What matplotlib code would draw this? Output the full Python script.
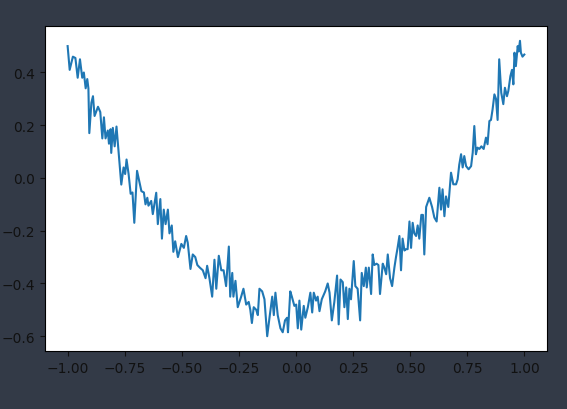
import matplotlib
matplotlib.use("Agg")
import matplotlib.pyplot as plt

# values
x = [-1.0, -0.991, -0.977, -0.966, -0.956, -0.946, -0.936, -0.929, -0.921, -0.914,
     -0.909, -0.905, -0.896, -0.889, -0.882, -0.867, -0.857, -0.848, -0.841, -0.834,
     -0.824, -0.819, -0.812, -0.809, -0.802, -0.794, -0.786, -0.765, -0.755, -0.748,
     -0.742, -0.733, -0.724, -0.716, -0.708, -0.696, -0.677, -0.666, -0.659, -0.651,
     -0.646, -0.634, -0.627, -0.612, -0.605, -0.594, -0.587, -0.579, -0.571, -0.561,
     -0.554, -0.544, -0.537, -0.529, -0.517, -0.502, -0.491, -0.481, -0.474, -0.462,
     -0.452, -0.441, -0.432, -0.421, -0.408, -0.396, -0.389, -0.379, -0.367, -0.357,
     -0.349, -0.338, -0.327, -0.317, -0.306, -0.294, -0.288, -0.279, -0.274, -0.265,
     -0.255, -0.240, -0.230, -0.218, -0.207, -0.200, -0.193, -0.185, -0.174, -0.167,
     -0.160, -0.148, -0.138, -0.126, -0.116, -0.104, -0.097, -0.090, -0.080, -0.068,
     -0.058, -0.048, -0.039, -0.035, -0.025, -0.018, -0.007, 0.001, 0.008, 0.015,
     0.023, 0.034, 0.041, 0.052, 0.063, 0.071, 0.078, 0.088, 0.095, 0.103,
     0.113, 0.128, 0.139, 0.147, 0.157, 0.168, 0.180, 0.187, 0.195, 0.205,
     0.212, 0.220, 0.227, 0.234, 0.241, 0.253, 0.260, 0.270, 0.281, 0.288,
     0.297, 0.306, 0.310, 0.319, 0.329, 0.336, 0.343, 0.353, 0.361, 0.368,
     0.380, 0.387, 0.395, 0.402, 0.412, 0.421, 0.431, 0.438, 0.445, 0.453,
     0.460, 0.467, 0.475, 0.482, 0.489, 0.497, 0.504, 0.511, 0.518, 0.526,
     0.533, 0.540, 0.549, 0.556, 0.562, 0.570, 0.584, 0.596, 0.606, 0.616,
     0.628, 0.635, 0.642, 0.650, 0.657, 0.667, 0.679, 0.689, 0.701, 0.708,
     0.715, 0.723, 0.730, 0.737, 0.745, 0.756, 0.767, 0.774, 0.781, 0.788,
     0.795, 0.803, 0.812, 0.822, 0.832, 0.839, 0.847, 0.854, 0.861, 0.869,
     0.876, 0.883, 0.890, 0.899, 0.908, 0.915, 0.924, 0.930, 0.939, 0.946,
     0.952, 0.957, 0.963, 0.971, 0.975, 0.981, 0.985, 0.992, 1.0]
y = [0.50, 0.41, 0.46, 0.455, 0.38, 0.45, 0.38, 0.40, 0.34, 0.375,
     0.34, 0.17, 0.285, 0.31, 0.235, 0.27, 0.25, 0.15, 0.23, 0.15,
     0.18, 0.13, 0.185, 0.095, 0.19, 0.12, 0.195, -0.025, 0.04, 0.015,
     0.07, 0.015, -0.06, -0.055, -0.17, 0.027, -0.05, -0.055, -0.10, -0.075,
     -0.105, -0.087, -0.137, -0.056, -0.175, -0.08, -0.23, -0.12, -0.175, -0.12,
     -0.21, -0.18, -0.28, -0.24, -0.30, -0.25, -0.265, -0.22, -0.245, -0.345,
     -0.29, -0.30, -0.33, -0.34, -0.35, -0.38, -0.333, -0.38, -0.45, -0.31,
     -0.42, -0.295, -0.35, -0.35, -0.41, -0.26, -0.45, -0.36, -0.45, -0.39,
     -0.49, -0.45, -0.42, -0.48, -0.47, -0.50, -0.55, -0.49, -0.50, -0.52,
     -0.42, -0.43, -0.46, -0.60, -0.53, -0.45, -0.52, -0.435, -0.52, -0.57,
     -0.585, -0.54, -0.53, -0.585, -0.43, -0.45, -0.485, -0.48, -0.57, -0.465,
     -0.575, -0.485, -0.53, -0.49, -0.435, -0.51, -0.435, -0.465, -0.45, -0.505,
     -0.46, -0.43, -0.40, -0.435, -0.54, -0.47, -0.37, -0.555, -0.385, -0.395,
     -0.49, -0.415, -0.535, -0.42, -0.46, -0.315, -0.41, -0.42, -0.54, -0.36,
     -0.41, -0.34, -0.415, -0.34, -0.44, -0.29, -0.33, -0.325, -0.33, -0.44,
     -0.325, -0.34, -0.365, -0.29, -0.38, -0.41, -0.34, -0.30, -0.265, -0.22,
     -0.35, -0.23, -0.275, -0.27, -0.27, -0.165, -0.265, -0.17, -0.21, -0.22,
     -0.18, -0.23, -0.14, -0.14, -0.29, -0.11, -0.075, -0.11, -0.15, -0.165,
     -0.037, -0.12, -0.043, -0.145, -0.07, -0.11, 0.02, -0.024, -0.024, -0.005,
     0.05, 0.09, 0.04, 0.083, 0.045, 0.033, 0.045, 0.096, 0.197, 0.09,
     0.115, 0.11, 0.12, 0.11, 0.153, 0.128, 0.216, 0.22, 0.26, 0.317,
     0.30, 0.22, 0.45, 0.323, 0.28, 0.342, 0.31, 0.33, 0.386, 0.41,
     0.355, 0.475, 0.424, 0.50, 0.48, 0.52, 0.475, 0.46, 0.468]

bg = '#333a47'

fig = plt.figure(figsize=(5.67, 4.10), dpi=100, facecolor=bg)
ax = fig.add_axes([0.079, 0.1415, 0.886, 0.7925])
ax.plot(x, y)
ax.set_xticks([-1.0, -0.75, -0.5, -0.25, 0.0, 0.25, 0.5, 0.75, 1.0])
ax.set_yticks([-0.6, -0.4, -0.2, 0.0, 0.2, 0.4])
ax.tick_params(colors='#111111', labelcolor='#111111')

plt.savefig('out.png', facecolor=bg)
